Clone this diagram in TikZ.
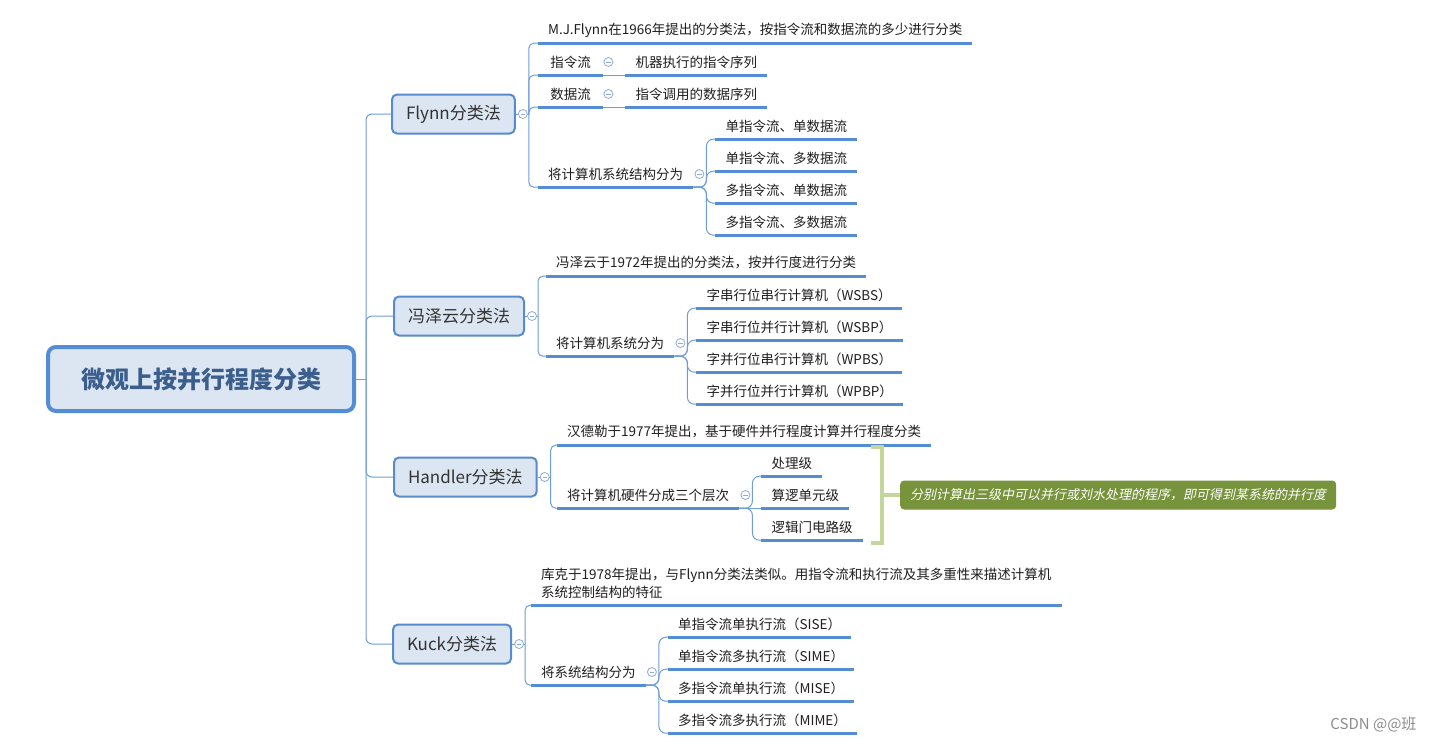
\documentclass[tikz,border=0pt]{standalone}
\usepackage{fontspec}
\setmainfont{Noto Sans CJK SC}
\newfontfamily\inclinada[FakeSlant=0.2]{Noto Sans CJK SC}
\usetikzlibrary{calc,positioning}
\definecolor{azulxm}{RGB}{84,141,212}
\definecolor{azulcon}{RGB}{111,157,216}
\definecolor{azulpalido}{RGB}{220,230,242}
\definecolor{azulborde}{RGB}{88,138,206}
\definecolor{azultexto}{RGB}{59,94,140}
\definecolor{olivo}{RGB}{119,147,60}
\definecolor{verdeclaro}{RGB}{196,215,155}
\definecolor{pliegueazul}{RGB}{141,172,220}
\tikzset{
  raiz/.style={
    rounded corners=8pt,
    draw=azulxm,
    line width=4pt,
    fill=azulpalido,
    text=azultexto,
    minimum width=306pt,
    minimum height=64pt,
    font=\fontsize{24}{28}\selectfont\bfseries
  },
  rama/.style={
    rounded corners=5pt,
    draw=azulborde,
    line width=2pt,
    fill=azulpalido,
    text=black!80,
    anchor=west,
    inner xsep=14pt,
    minimum height=39pt,
    font=\fontsize{17}{20}\selectfont
  },
  hoja/.style={
    anchor=west,
    inner xsep=10pt,
    inner ysep=0pt,
    minimum height=26pt,
    text=black!88,
    font=\fontsize{13.5}{18}\selectfont,
    append after command={(\tikzlastnode.south west) edge[linea] (\tikzlastnode.south east)}
  },
  linea/.style={
    draw=azulxm,
    line width=2.8pt
  },
  conector/.style={
    draw=azulcon,
    line width=1pt
  },
  pliegue/.style={
    circle,
    draw=pliegueazul,
    fill=white,
    line width=.8pt,
    minimum size=9pt,
    inner sep=0pt,
    path picture={\draw[pliegueazul,line width=.8pt] ([xshift=-2.2pt]path picture bounding box.center) -- ([xshift=2.2pt]path picture bounding box.center);}
  },
  corchete/.style={
    draw=verdeclaro,
    line width=4.5pt
  },
  resumen/.style={
    rounded corners=4pt,
    fill=olivo,
    text=white,
    anchor=west,
    inner xsep=10pt,
    minimum height=29pt,
    font=\inclinada\fontsize{13}{18}\selectfont
  }
}

\begin{document}
\begin{tikzpicture}[x=1pt,y=-1pt]
\useasboundingbox[fill=white] (0,0) rectangle (1432,744);

\node[raiz] (raiz) at (201,379) {微观上按并行程度分类};
\node[rama] (flynn) at (391,114) {Flynn分类法};
\node[rama] (fzy) at (393,316) {冯泽云分类法};
\node[rama] (handler) at (393,477) {Handler分类法};
\node[rama] (kuck) at (392,644) {Kuck分类法};

% tronco
\coordinate (tronco) at (366,379);
\draw[conector] (raiz.east) -- (tronco);
\draw[conector,rounded corners=6pt] (tronco) |- (flynn.west);
\draw[conector,rounded corners=6pt] (tronco) |- (fzy.west);
\draw[conector,rounded corners=6pt] (tronco) |- (handler.west);
\draw[conector,rounded corners=6pt] (tronco) |- (kuck.west);

% Flynn
\node[hoja] (f1) at (538,30) {M.J.Flynn在1966年提出的分类法，按指令流和数据流的多少进行分类};
\node[hoja,minimum width=65pt] (f2) at (538,62) {指令流};
\node[hoja,right=22pt of f2] (f2a) {机器执行的指令序列};
\node[hoja,minimum width=65pt] (f3) at (538,94) {数据流};
\node[hoja,right=22pt of f3] (f3a) {指令调用的数据序列};
\node[hoja] (f4) at (538,174) {将计算机系统结构分为};
\node[hoja,right=22pt of f4,yshift=48pt] (f4a) {单指令流、单数据流};
\node[hoja,right=22pt of f4,yshift=16pt] (f4b) {单指令流、多数据流};
\node[hoja,right=22pt of f4,yshift=-16pt] (f4c) {多指令流、单数据流};
\node[hoja,right=22pt of f4,yshift=-48pt] (f4d) {多指令流、多数据流};
\coordinate (flynnj) at ($(flynn.east)+(13,0)$);
\draw[conector] (flynn.east) -- (flynnj);
\draw[conector,rounded corners=5pt] (flynnj) |- (f1.south west);
\draw[conector,rounded corners=5pt] (flynnj) |- (f2.south west);
\draw[conector,rounded corners=5pt] (flynnj) |- (f3.south west);
\draw[conector,rounded corners=5pt] (flynnj) |- (f4.south west);
\draw[conector] (f2.south east) -- (f2a.south west);
\draw[conector] (f3.south east) -- (f3a.south west);
\draw[conector,rounded corners=7pt] (f4.south east) -- ++(13,0) |- (f4a.south west);
\draw[conector,rounded corners=7pt] (f4.south east) -- ++(13,0) |- (f4b.south west);
\draw[conector,rounded corners=7pt] (f4.south east) -- ++(13,0) |- (f4c.south west);
\draw[conector,rounded corners=7pt] (f4.south east) -- ++(13,0) |- (f4d.south west);
\node[pliegue] (flynnp) at ($(flynn.east)+(7,0)$) {};
\node[pliegue] (f2p) at ($(f2.east)+(5,0)$) {};
\node[pliegue] (f3p) at ($(f3.east)+(5,0)$) {};
\node[pliegue] (f4p) at ($(f4.east)+(6,0)$) {};

% Feng
\node[hoja] (z1) at (546,263) {冯泽云于1972年提出的分类法，按并行度进行分类};
\node[hoja] (z2) at (546,343) {将计算机系统分为};
\node[hoja,right=22pt of z2,yshift=48pt] (z2a) {字串行位串行计算机（WSBS）};
\node[hoja,right=22pt of z2,yshift=16pt] (z2b) {字串行位并行计算机（WSBP）};
\node[hoja,right=22pt of z2,yshift=-16pt] (z2c) {字并行位串行计算机（WPBS）};
\node[hoja,right=22pt of z2,yshift=-48pt] (z2d) {字并行位并行计算机（WPBP）};
\coordinate (fzyj) at ($(fzy.east)+(13,0)$);
\draw[conector] (fzy.east) -- (fzyj);
\draw[conector,rounded corners=5pt] (fzyj) |- (z1.south west);
\draw[conector,rounded corners=5pt] (fzyj) |- (z2.south west);
\draw[conector,rounded corners=7pt] (z2.south east) -- ++(13,0) |- (z2a.south west);
\draw[conector,rounded corners=7pt] (z2.south east) -- ++(13,0) |- (z2b.south west);
\draw[conector,rounded corners=7pt] (z2.south east) -- ++(13,0) |- (z2c.south west);
\draw[conector,rounded corners=7pt] (z2.south east) -- ++(13,0) |- (z2d.south west);
\node[pliegue] (fzyp) at ($(fzy.east)+(7,0)$) {};
\node[pliegue] (z2p) at ($(z2.east)+(6,0)$) {};

% Handler
\node[hoja] (h1) at (557,432) {汉德勒于1977年提出，基于硬件并行程度计算并行程度分类};
\node[hoja] (h2) at (557,495) {将计算机硬件分成三个层次};
\node[hoja,right=22pt of h2,yshift=32pt] (h2a) {处理级};
\node[hoja,right=22pt of h2] (h2b) {算逻单元级};
\node[hoja,right=22pt of h2,yshift=-32pt] (h2c) {逻辑门电路级};
\coordinate (handlerj) at ($(handler.east)+(13,0)$);
\draw[conector] (handler.east) -- (handlerj);
\draw[conector,rounded corners=5pt] (handlerj) |- (h1.south west);
\draw[conector,rounded corners=5pt] (handlerj) |- (h2.south west);
\draw[conector,rounded corners=7pt] (h2.south east) -- ++(13,0) |- (h2a.south west);
\draw[conector] (h2.south east) -- (h2b.south west);
\draw[conector,rounded corners=7pt] (h2.south east) -- ++(13,0) |- (h2c.south west);
\node[pliegue] (handlerp) at ($(handler.east)+(7,0)$) {};
\node[pliegue] (h2p) at ($(h2.east)+(6,0)$) {};
\node[resumen] (resumen) at (900,495) {分别计算出三级中可以并行或刘水处理的程序，即可得到某系统的并行度};
\draw[corchete] (871,447) -- (882,447) -- (882,543) -- (871,543);
\draw[corchete] (882,495) -- (resumen.west);

% Kuck
\node[hoja,align=left,minimum height=44pt] (k1) at (531,583) {库克于1978年提出，与Flynn分类法类似。用指令流和执行流及其多重性来描述计算机\\系统控制结构的特征};
\node[hoja] (k2) at (531,672) {将系统结构分为};
\node[hoja,right=22pt of k2,yshift=48pt] (k2a) {单指令流单执行流（SISE）};
\node[hoja,right=22pt of k2,yshift=16pt] (k2b) {单指令流多执行流（SIME）};
\node[hoja,right=22pt of k2,yshift=-16pt] (k2c) {多指令流单执行流（MISE）};
\node[hoja,right=22pt of k2,yshift=-48pt] (k2d) {多指令流多执行流（MIME）};
\coordinate (kuckj) at ($(kuck.east)+(13,0)$);
\draw[conector] (kuck.east) -- (kuckj);
\draw[conector,rounded corners=5pt] (kuckj) |- (k1.south west);
\draw[conector,rounded corners=5pt] (kuckj) |- (k2.south west);
\draw[conector,rounded corners=7pt] (k2.south east) -- ++(13,0) |- (k2a.south west);
\draw[conector,rounded corners=7pt] (k2.south east) -- ++(13,0) |- (k2b.south west);
\draw[conector,rounded corners=7pt] (k2.south east) -- ++(13,0) |- (k2c.south west);
\draw[conector,rounded corners=7pt] (k2.south east) -- ++(13,0) |- (k2d.south west);
\node[pliegue] (kuckp) at ($(kuck.east)+(7,0)$) {};
\node[pliegue] (k2p) at ($(k2.east)+(6,0)$) {};

\node[anchor=east,text=black!45,font=\fontsize{15}{18}\selectfont] (marca) at (1420,724) {CSDN @@班};
\end{tikzpicture}
\end{document}
